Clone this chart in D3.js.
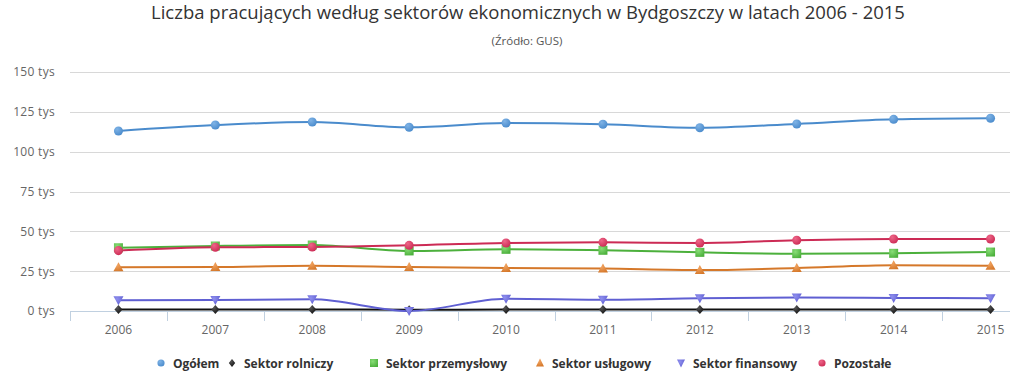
<!DOCTYPE html>
<html>
<head>
<meta charset="utf-8">
<script src="https://cdn.jsdelivr.net/npm/d3@7"></script>
<style>
  body { margin: 0; background: #fff; }
  svg { display: block; }
</style>
</head>
<body>
<svg id="chart" width="1011" height="389"></svg>
<script>
// Data (thousands of employees)
const years = ["2006", "2007", "2008", "2009", "2010", "2011", "2012", "2013", "2014", "2015"];
const ogolem      = [113.0, 116.7, 118.6, 115.3, 118.0, 117.2, 115.0, 117.4, 120.3, 121.0];
const rolniczy    = [0.9, 0.9, 1.0, 0.8, 0.9, 0.9, 0.9, 0.9, 0.9, 0.9];
const przemyslowy = [39.7, 40.8, 41.4, 37.7, 38.7, 38.1, 36.8, 36.0, 36.2, 37.0];
const uslugowy    = [27.4, 27.6, 28.4, 27.6, 27.0, 26.6, 25.7, 27.0, 28.7, 28.4];
const finansowy   = [6.7, 6.9, 7.3, 0.0, 7.7, 7.1, 8.0, 8.4, 8.2, 8.0];
const pozostale   = [37.9, 40.0, 40.2, 41.2, 42.7, 43.1, 42.7, 44.4, 45.2, 45.2];
const yTicks = [0, 25, 50, 75, 100, 125, 150];

const series = [
    {name: "Ogółem", values: ogolem, color: "#4a8bcc", light: "#7fb3e6", symbol: "circle"},
    {name: "Sektor rolniczy", values: rolniczy, color: "#111111", light: "#555555", symbol: "diamond"},
    {name: "Sektor przemysłowy", values: przemyslowy, color: "#4cb03c", light: "#88dd77", symbol: "square"},
    {name: "Sektor usługowy", values: uslugowy, color: "#d5782a", light: "#f2a563", symbol: "triangle"},
    {name: "Sektor finansowy", values: finansowy, color: "#5f5fd2", light: "#8f8fee", symbol: "triangleDown"},
    {name: "Pozostałe", values: pozostale, color: "#cc2b55", light: "#ee6688", symbol: "circle"}
];

const svg = d3.select("#chart");
const plot = {left: 70, right: 1010, top: 72, bottom: 311};
const bandStep = 96.9;
const font = "'Open Sans', sans-serif";

const x = d3.scaleBand()
    .domain(years)
    .range([plot.left, plot.left + bandStep * years.length])
    .paddingInner(0).paddingOuter(0);
const cx = d => x(d) + x.bandwidth() / 2;

const y = d3.scaleLinear().domain([0, 150]).range([plot.bottom, plot.top]);

// gradients for markers
const defs = svg.append("defs");
series.forEach((s, i) => {
    const g = defs.append("radialGradient")
        .attr("id", "grad" + i)
        .attr("cx", "35%").attr("cy", "30%").attr("r", "75%");
    g.append("stop").attr("offset", "0%").attr("stop-color", s.light);
    g.append("stop").attr("offset", "100%").attr("stop-color", s.color);
});
defs.append("clipPath").attr("id", "plotClip")
    .append("rect")
    .attr("x", plot.left).attr("y", plot.top - 10)
    .attr("width", plot.right - plot.left).attr("height", plot.bottom - plot.top + 20);

// Title
svg.append("text")
    .attr("x", 528).attr("y", 19)
    .attr("text-anchor", "middle")
    .attr("font-family", font)
    .attr("font-size", "18.5px")
    .attr("fill", "#333")
    .text("Liczba pracujących według sektorów ekonomicznych w Bydgoszczy w latach 2006 - 2015");

svg.append("text")
    .attr("x", 527).attr("y", 45)
    .attr("text-anchor", "middle")
    .attr("font-family", font)
    .attr("font-size", "11.5px")
    .attr("fill", "#555")
    .text("(Źródło: GUS)");

// Grid lines
svg.append("g")
    .selectAll("line")
    .data(yTicks.filter(t => t > 0))
    .enter().append("line")
    .attr("x1", plot.left).attr("x2", plot.right)
    .attr("y1", d => Math.round(y(d)) + 0.5).attr("y2", d => Math.round(y(d)) + 0.5)
    .attr("stroke", "#d8d8d8");

// Y axis labels
const yAxis = d3.axisLeft(y).tickValues(yTicks).tickSize(0).tickPadding(0)
    .tickFormat(d => `${d} tys`);
const yg = svg.append("g")
    .attr("transform", `translate(${plot.left - 15},0)`)
    .call(yAxis);
yg.select(".domain").remove();
yg.selectAll("text")
    .attr("font-family", font)
    .attr("font-size", "12px")
    .attr("letter-spacing", "0.3px")
    .attr("fill", "#666");

// X axis
const xg = svg.append("g").attr("transform", `translate(0,${plot.bottom})`);
xg.append("line")
    .attr("x1", plot.left).attr("x2", plot.right)
    .attr("y1", 0.5).attr("y2", 0.5)
    .attr("stroke", "#c0d0e0");
xg.selectAll(".tick")
    .data(years.filter(d => x(d) <= plot.right))
    .enter().append("line")
    .attr("x1", d => Math.round(x(d)) + 0.5).attr("x2", d => Math.round(x(d)) + 0.5)
    .attr("y1", 0).attr("y2", 10)
    .attr("stroke", "#c0d0e0");
xg.selectAll(".xlabel")
    .data(years)
    .enter().append("text")
    .attr("x", d => cx(d))
    .attr("y", 23)
    .attr("text-anchor", "middle")
    .attr("font-family", font)
    .attr("font-size", "12px")
    .attr("fill", "#666")
    .text(d => d);

// Lines
const line = d3.line()
    .x((d, i) => cx(years[i]))
    .y(d => y(d))
    .curve(d3.curveMonotoneX);

const lines = svg.append("g").attr("clip-path", "url(#plotClip)");
series.forEach(s => {
    lines.append("path")
        .datum(s.values)
        .attr("fill", "none")
        .attr("stroke", s.color)
        .attr("stroke-width", 2)
        .attr("d", line);
});

// Markers
const symbolPath = (sym) => {
    switch (sym) {
        case "circle": return d3.symbol(d3.symbolCircle, 64)();
        case "diamond": return "M0,-4.5L4,0L0,4.5L-4,0Z";
        case "square": return "M-4.5,-4.5H4.5V4.5H-4.5Z";
        case "triangle": return "M0,-5L5,4H-5Z";
        case "triangleDown": return "M-5,-4H5L0,5Z";
    }
};
series.forEach((s, i) => {
    svg.append("g")
        .selectAll("path")
        .data(s.values)
        .enter().append("path")
        .attr("transform", (d, j) => `translate(${cx(years[j])},${y(d)})`)
        .attr("d", symbolPath(s.symbol))
        .attr("fill", `url(#grad${i})`);
});

// Legend
const legendItems = [161, 232, 374, 540, 681, 822];
const legend = svg.append("g").attr("transform", "translate(0,363)");
series.forEach((s, i) => {
    const item = legend.append("g").attr("transform", `translate(${legendItems[i]},0)`);
    item.append("path")
        .attr("d", s.symbol === "circle" ? d3.symbol(d3.symbolCircle, 40)() :
            s.symbol === "diamond" ? "M0,-4L3.2,0L0,4L-3.2,0Z" :
            s.symbol === "square" ? "M-4,-4H4V4H-4Z" :
            s.symbol === "triangle" ? "M0,-4.5L4,3.5H-4Z" : "M-4,-3.5H4L0,4.5Z")
        .attr("fill", `url(#grad${i})`);
    item.append("text")
        .attr("x", 12).attr("y", 4.5)
        .attr("font-family", font)
        .attr("font-weight", "bold")
        .attr("font-size", "12px")
        .attr("fill", "#333")
        .text(s.name);
});
</script>
</body>
</html>
